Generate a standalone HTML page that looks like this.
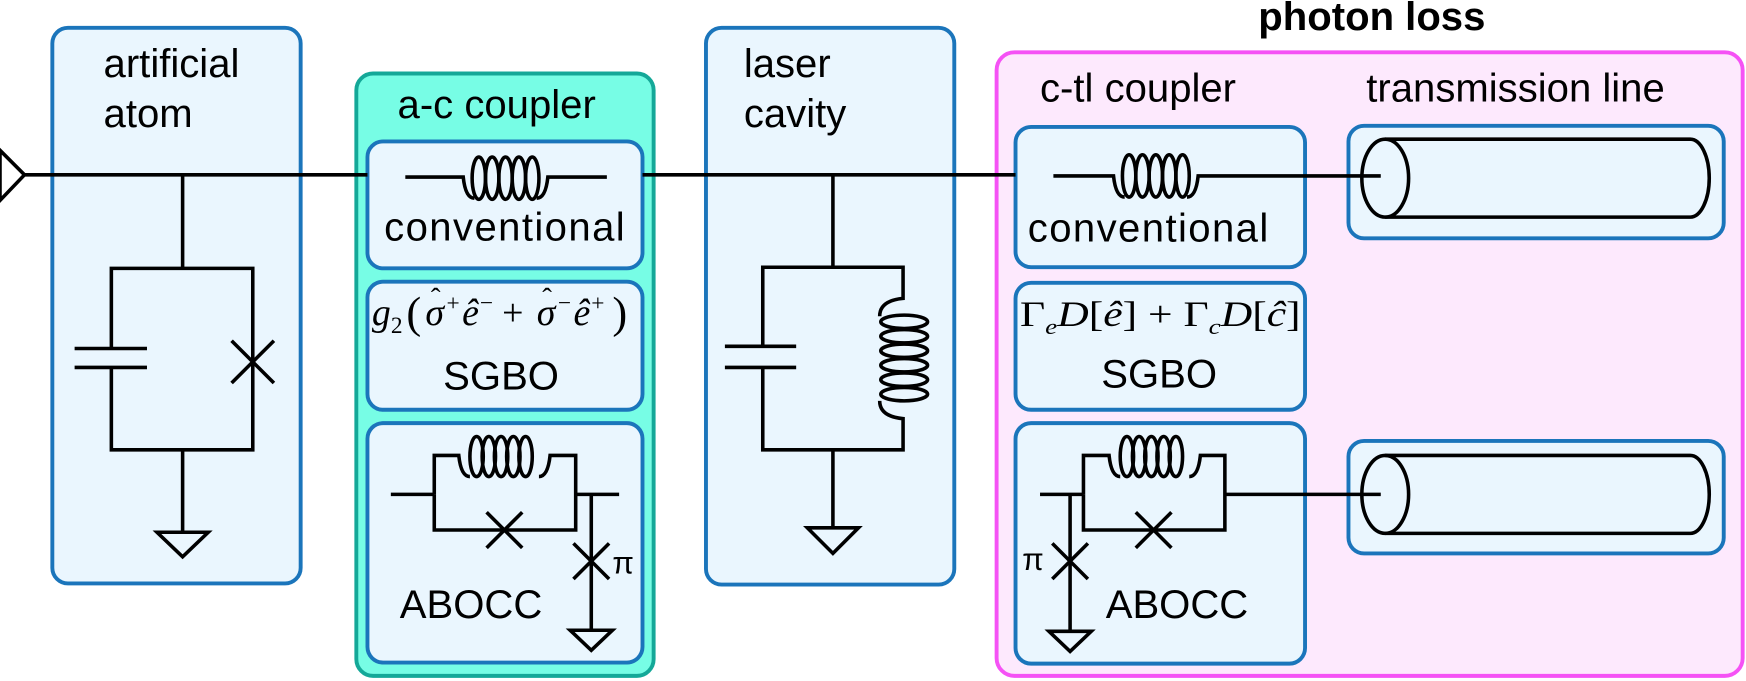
<!DOCTYPE html>
<html><head><meta charset="utf-8"><style>
html,body{margin:0;padding:0;background:#fff;}
svg{display:block;}
text{font-family:"Liberation Sans",sans-serif;fill:#000;}
.f{font-family:"Liberation Serif",serif;}
.i{font-family:"Liberation Serif",serif;font-style:italic;}
</style></head><body>
<svg width="1746" height="681" viewBox="0 0 1568 611.6" preserveAspectRatio="none" xmlns="http://www.w3.org/2000/svg">
<g stroke-width="3.5">
<rect x="47" y="25" width="223" height="499" rx="14" fill="#eaf6fe" stroke="#1b75bb"/>
<rect x="320" y="66" width="267" height="541" rx="15" fill="#77fde5" stroke="#14a898"/>
<rect x="330" y="127" width="247" height="114" rx="14" fill="#eaf6fe" stroke="#1b75bb"/>
<rect x="330" y="253" width="247" height="115" rx="14" fill="#eaf6fe" stroke="#1b75bb"/>
<rect x="330" y="380" width="247" height="215" rx="14" fill="#eaf6fe" stroke="#1b75bb"/>
<rect x="634" y="25" width="223" height="500" rx="14" fill="#eaf6fe" stroke="#1b75bb"/>
<rect x="895" y="47" width="670" height="560" rx="16" fill="#fde9fd" stroke="#f552f5"/>
<rect x="912" y="114" width="260" height="126" rx="14" fill="#eaf6fe" stroke="#1b75bb"/>
<rect x="912" y="254" width="260" height="114" rx="14" fill="#eaf6fe" stroke="#1b75bb"/>
<rect x="912" y="380" width="260" height="216" rx="14" fill="#eaf6fe" stroke="#1b75bb"/>
<rect x="1211" y="113" width="337" height="101" rx="14" fill="#eaf6fe" stroke="#1b75bb"/>
<rect x="1211" y="396" width="337" height="101" rx="14" fill="#eaf6fe" stroke="#1b75bb"/>
</g>
<g fill="none" stroke="#000" stroke-width="3.2">
<polygon points="0,135 22,157 0,180" fill="#fff"/>
<line x1="22" y1="157" x2="330" y2="157"/>
<line x1="577" y1="157" x2="912" y2="157"/>
<line x1="164" y1="157" x2="164" y2="241"/>
<path d="M100,313 V241 H227 V404 H100 V330"/>
<line x1="67" y1="313" x2="132" y2="313"/><line x1="67" y1="330" x2="132" y2="330"/>
<line x1="208" y1="306" x2="246" y2="344"/><line x1="246" y1="306" x2="208" y2="344"/>
<line x1="164" y1="404" x2="164" y2="478"/>
<polygon points="141,478 187,478 164,500"/>
<path d="M364,159 H416 Q418,178 426,178"/>
<ellipse cx="430" cy="160" rx="6" ry="19"/><ellipse cx="442" cy="160" rx="6" ry="19"/><ellipse cx="454" cy="160" rx="6" ry="19"/><ellipse cx="466" cy="160" rx="6" ry="19"/><ellipse cx="478" cy="160" rx="6" ry="19"/>
<path d="M482,178 Q490,178 492,159 H545"/>
<path d="M390,444 V476 H517 V409 H494 Q492,428 484,428"/>
<path d="M390,444 V409 H412 Q414,428 422,428"/>
<ellipse cx="428" cy="410" rx="6" ry="18"/><ellipse cx="439" cy="410" rx="6" ry="18"/><ellipse cx="450" cy="410" rx="6" ry="18"/><ellipse cx="461" cy="410" rx="6" ry="18"/><ellipse cx="472" cy="410" rx="6" ry="18"/>
<line x1="351" y1="444" x2="390" y2="444"/><line x1="517" y1="444" x2="556" y2="444"/>
<line x1="437" y1="460" x2="469" y2="492"/><line x1="469" y1="460" x2="437" y2="492"/>
<line x1="531" y1="444" x2="531" y2="566"/>
<line x1="515" y1="488" x2="547" y2="520"/><line x1="547" y1="488" x2="515" y2="520"/>
<polygon points="512,566 550,566 531,584"/>
<line x1="748" y1="157" x2="748" y2="240"/>
<path d="M685,311 V240 H811 V268 Q790,270 790,284"/>
<path d="M685,330 V404 H811 V376 Q790,374 790,360"/>
<ellipse cx="812" cy="289" rx="21" ry="6"/><ellipse cx="812" cy="302" rx="21" ry="6"/><ellipse cx="812" cy="315" rx="21" ry="6"/><ellipse cx="812" cy="328" rx="21" ry="6"/><ellipse cx="812" cy="341" rx="21" ry="6"/><ellipse cx="812" cy="354" rx="21" ry="6"/>
<line x1="651" y1="311" x2="715" y2="311"/><line x1="651" y1="330" x2="715" y2="330"/>
<line x1="748" y1="404" x2="748" y2="474"/>
<polygon points="725,474 771,474 748,497"/>
<path d="M946,158 H1000 Q1002,177 1010,177"/>
<ellipse cx="1014" cy="158" rx="6" ry="19"/><ellipse cx="1026" cy="158" rx="6" ry="19"/><ellipse cx="1038" cy="158" rx="6" ry="19"/><ellipse cx="1050" cy="158" rx="6" ry="19"/><ellipse cx="1062" cy="158" rx="6" ry="19"/>
<path d="M1066,177 Q1074,177 1076,158 H1240"/>
<path d="M1244,125 H1518 A17,35 0 0 1 1518,195 H1244"/>
<ellipse cx="1244" cy="160" rx="21" ry="35"/>
<path d="M973,444 V476 H1100 V409 H1078 Q1076,428 1068,428"/>
<path d="M973,444 V409 H996 Q998,428 1006,428"/>
<ellipse cx="1012" cy="410" rx="6" ry="18"/><ellipse cx="1023" cy="410" rx="6" ry="18"/><ellipse cx="1034" cy="410" rx="6" ry="18"/><ellipse cx="1045" cy="410" rx="6" ry="18"/><ellipse cx="1056" cy="410" rx="6" ry="18"/>
<line x1="934" y1="444" x2="973" y2="444"/><line x1="1100" y1="444" x2="1240" y2="444"/>
<line x1="1020" y1="460" x2="1052" y2="492"/><line x1="1052" y1="460" x2="1020" y2="492"/>
<line x1="961" y1="444" x2="961" y2="567"/>
<line x1="945" y1="488" x2="977" y2="520"/><line x1="977" y1="488" x2="945" y2="520"/>
<polygon points="942,567 980,567 961,585"/>
<path d="M1244,409 H1518 A17,35 0 0 1 1518,479 H1244"/>
<ellipse cx="1244" cy="444" rx="21" ry="35"/>
</g>
<g font-size="36">
<text x="93" y="69">artificial</text>
<text x="93" y="114">atom</text>
<text x="357" y="106">a-c coupler</text>
<text x="345" y="216" textLength="216">conventional</text>
<text x="398" y="350">SGBO</text>
<text x="359" y="555">ABOCC</text>
<text x="550" y="515" font-size="28">π</text>
<text x="668" y="69">laser</text>
<text x="668" y="114">cavity</text>
<text x="1232" y="27" text-anchor="middle" font-weight="bold">photon loss</text>
<text x="934" y="91">c-tl coupler</text>
<text x="1227" y="91">transmission line</text>
<text x="923" y="217" textLength="216">conventional</text>
<text x="989" y="348">SGBO</text>
<text x="993" y="555">ABOCC</text>
<text x="918" y="512" font-size="28">π</text>
</g>
<!-- a-c formula -->
<g font-size="34">
<text class="i" x="334" y="292">g</text>
<text class="f" x="351" y="299" font-size="21">2</text>
<text class="f" x="365" y="294" font-size="40">(</text>
<text class="i" x="382" y="292">σ</text>
<text class="f" x="387" y="276" font-size="26">ˆ</text>
<text class="f" x="401" y="279" font-size="21">+</text>
<text class="i" x="415" y="292">ê</text>
<text class="f" x="431" y="279" font-size="21">−</text>
<text class="f" x="451" y="292">+</text>
<text class="i" x="482" y="292">σ</text>
<text class="f" x="487" y="276" font-size="26">ˆ</text>
<text class="f" x="501" y="279" font-size="21">−</text>
<text class="i" x="515" y="292">ê</text>
<text class="f" x="531" y="279" font-size="21">+</text>
<text class="f" x="550" y="294" font-size="40">)</text>
</g>
<text class="f" x="916" y="293" font-size="32" textLength="252" lengthAdjust="spacingAndGlyphs">Γ<tspan font-size="20" dy="7" font-style="italic">e</tspan><tspan dy="-7" font-style="italic">D</tspan>[<tspan font-style="italic">ê</tspan>] + Γ<tspan font-size="20" dy="7" font-style="italic">c</tspan><tspan dy="-7" font-style="italic">D</tspan>[<tspan font-style="italic">ĉ</tspan>]</text>
</svg>
</body></html>
